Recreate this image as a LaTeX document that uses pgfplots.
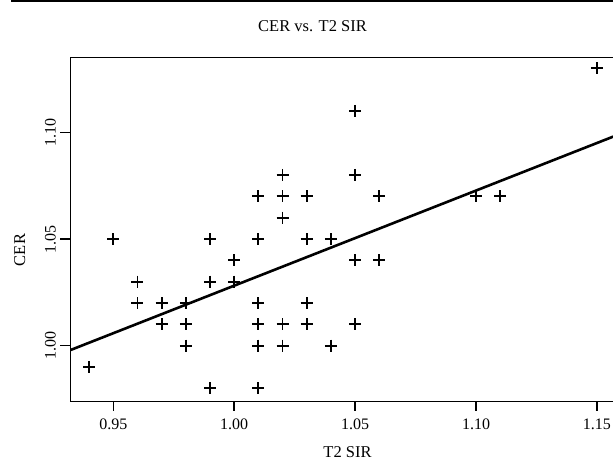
\documentclass[border=0pt]{standalone}
\usepackage{fontspec}
\setmainfont{Liberation Serif}
\usepackage{pgfplots}
\pgfplotsset{compat=1.18}
\begin{document}
\begin{tikzpicture}
\draw[line width=1.5pt] (11pt,460pt) -- (613pt,460pt);
\node[font=\fontsize{16.5}{20}\selectfont, anchor=base] at (312.5pt,429.3pt) {CER vs. T2 SIR};
\node[font=\fontsize{16.5}{20}\selectfont, anchor=base] at (347.5pt,4pt) {T2 SIR};
\node[font=\fontsize{16.5}{20}\selectfont, anchor=base, rotate=90] at (25pt,211pt) {CER};
\begin{axis}[
    at={(70.7pt,59.3pt)}, anchor=south west,
    scale only axis,
    width=545.3pt, height=344.4pt,
    xmin=0.93238, xmax=1.1579,
    ymin=0.97375, ymax=1.13516,
    clip=false,
    xtick={0.95,1.00,1.05,1.10,1.15},
    ytick={1.00,1.05,1.10},
    tick pos=left,
    tick align=outside,
    major tick length=9pt,
    axis line style={line width=1.5pt},
    tick style={line width=1.5pt, black},
    /pgf/number format/fixed,
    /pgf/number format/fixed zerofill,
    /pgf/number format/precision=2,
    /pgf/number format/assume math mode=true,
    ticklabel style={font=\fontsize{16}{19}\selectfont},
    xticklabel shift=5pt,
    yticklabel shift=6pt,
    yticklabel style={rotate=90, anchor=base},
]
% tick marks
\pgfplotsinvokeforeach{0.95,1.00,1.05,1.10,1.15}{
  \draw[line width=1.5pt] (axis cs:#1,0.97375) -- ++(0pt,-8pt);
}
\pgfplotsinvokeforeach{1.00,1.05,1.10}{
  \draw[line width=1.5pt] (axis cs:0.93238,#1) -- ++(-11pt,0pt);
}
\addplot[only marks, mark=+, mark size=6pt, line width=1.8pt] coordinates {
(0.94,0.99)
(0.95,1.05)
(0.96,1.03) (0.96,1.02)
(0.97,1.02) (0.97,1.01)
(0.98,1.02) (0.98,1.01) (0.98,1.00)
(0.99,1.05) (0.99,1.03) (0.99,0.98)
(1.00,1.04) (1.00,1.03)
(1.01,1.07) (1.01,1.05) (1.01,1.02) (1.01,1.01) (1.01,1.00) (1.01,0.98)
(1.02,1.08) (1.02,1.07) (1.02,1.06) (1.02,1.01) (1.02,1.00)
(1.03,1.07) (1.03,1.05) (1.03,1.02) (1.03,1.01)
(1.04,1.05) (1.04,1.00)
(1.05,1.11) (1.05,1.08) (1.05,1.04) (1.05,1.01)
(1.06,1.07) (1.06,1.04)
(1.10,1.07)
(1.11,1.07)
(1.15,1.13)
};
\addplot[line width=2.6pt, black] coordinates {(0.93238,0.998) (1.1579,1.0985)};
\end{axis}
\pgfresetboundingbox
\path (0pt,0pt) rectangle (613pt,461pt);
\end{tikzpicture}
\end{document}
